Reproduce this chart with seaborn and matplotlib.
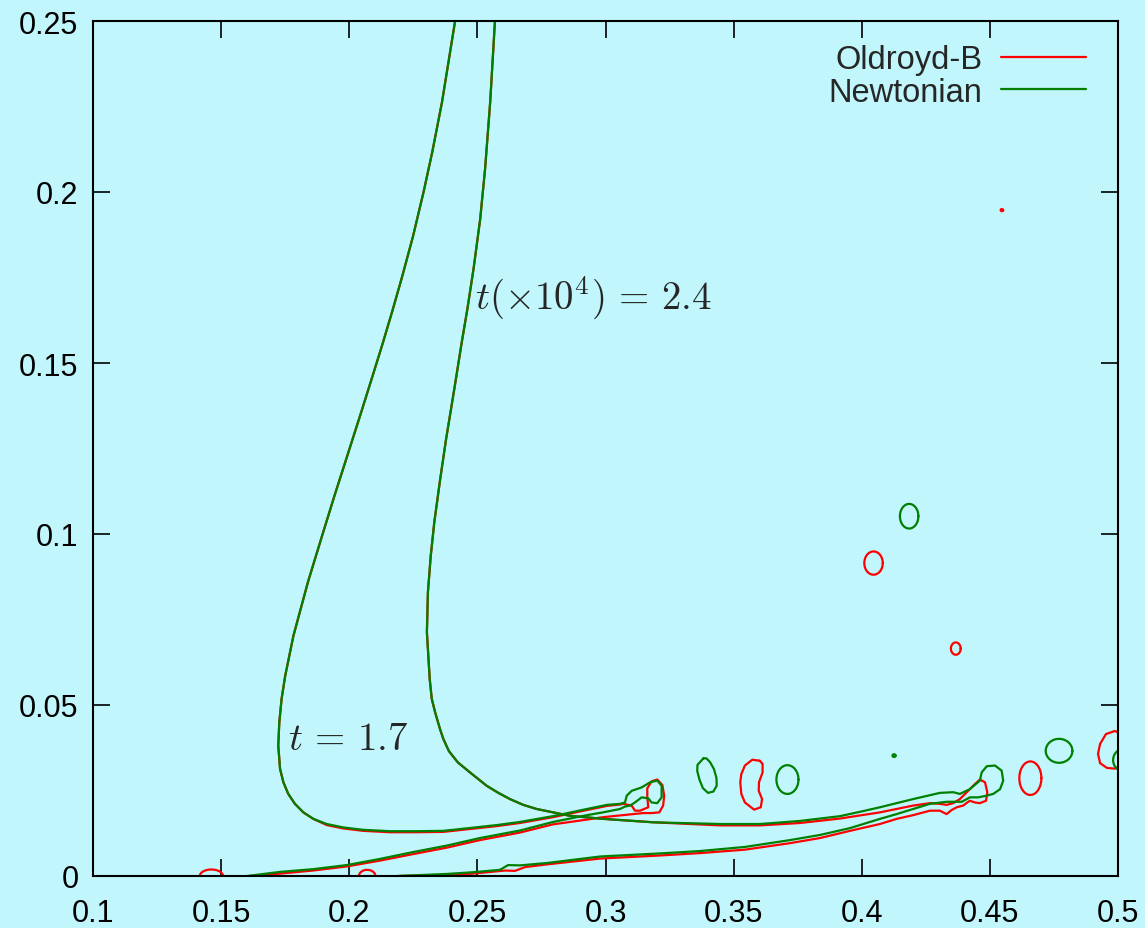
import numpy as np
import pandas as pd
import matplotlib
matplotlib.use("Agg")
import matplotlib.pyplot as plt
import seaborn as sns
from matplotlib.lines import Line2D

# ---------------- data ----------------
# t = 1.7 interface: common upper stem, then per-fluid tails
t17_stem_x = [0.2417, 0.2362, 0.2324, 0.2290, 0.2249, 0.2207, 0.2167, 0.2130, 0.2096, 0.2047,
              0.1992, 0.1942, 0.1890, 0.1839, 0.1782, 0.1750, 0.1736, 0.1727, 0.1723, 0.1730,
              0.1743, 0.1762, 0.1788, 0.1821, 0.1860]
t17_stem_y = [0.2518, 0.2263, 0.2117, 0.2000, 0.1871, 0.1754, 0.1649, 0.1556, 0.1474, 0.1357,
              0.1228, 0.1111, 0.0985, 0.0860, 0.0702, 0.0585, 0.0518, 0.0449, 0.0381, 0.0313,
              0.0274, 0.0240, 0.0211, 0.0186, 0.0167]

t17_newt_tail_x = [0.1912, 0.1977, 0.2055, 0.2159, 0.2263, 0.2367, 0.2577, 0.2666, 0.2795, 0.2928,
                   0.3006, 0.3057,
                   0.3076, 0.3083, 0.3102, 0.3141, 0.3174, 0.3202, 0.3219, 0.3219, 0.3202, 0.3180,
                   0.3167, 0.3141, 0.3115, 0.3096, 0.3076, 0.3057,
                   0.2990, 0.2928, 0.2795, 0.2666, 0.2510, 0.2381, 0.2249, 0.2120, 0.1991, 0.1859,
                   0.1730, 0.1601]
t17_newt_tail_y = [0.0152, 0.0142, 0.0135, 0.0131, 0.0131, 0.0132, 0.0149, 0.0158, 0.0175, 0.0196,
                   0.0208, 0.0211,
                   0.0215, 0.0235, 0.0249, 0.0259, 0.0274, 0.0279, 0.0264, 0.0230, 0.0213, 0.0215,
                   0.0227, 0.0230, 0.0215, 0.0206, 0.0203, 0.0196,
                   0.0186, 0.0178, 0.0158, 0.0133, 0.0111, 0.0089, 0.0070, 0.0050, 0.0032, 0.0020,
                   0.0012, 0.0000]

t17_oldb_tail_x = [0.1912, 0.1977, 0.2055, 0.2159, 0.2263, 0.2367, 0.2577, 0.2666, 0.2795, 0.2928,
                   0.3006, 0.3057,
                   0.3069, 0.3102, 0.3115, 0.3135, 0.3167, 0.3163, 0.3163, 0.3180, 0.3202, 0.3222,
                   0.3229, 0.3225, 0.3210, 0.3180, 0.3147, 0.3108,
                   0.2990, 0.2928, 0.2795, 0.2666, 0.2510, 0.2381, 0.2249, 0.2120, 0.1991, 0.1859,
                   0.1730, 0.1613]
t17_oldb_tail_y = [0.0149, 0.0139, 0.0132, 0.0128, 0.0128, 0.0129, 0.0146, 0.0155, 0.0172, 0.0193,
                   0.0205, 0.0209,
                   0.0211, 0.0206, 0.0191, 0.0191, 0.0201, 0.0230, 0.0256, 0.0277, 0.0282, 0.0266,
                   0.0235, 0.0206, 0.0186, 0.0184, 0.0184, 0.0181,
                   0.0172, 0.0165, 0.0151, 0.0127, 0.0105, 0.0083, 0.0064, 0.0045, 0.0028, 0.0016,
                   0.0007, 0.0000]

# t = 2.4 interface
t24_stem_x = [0.2570, 0.2550, 0.2530, 0.2511, 0.2485, 0.2461, 0.2438, 0.2410, 0.2378, 0.2355,
              0.2332, 0.2318, 0.2307, 0.2303, 0.2314, 0.2322, 0.2335, 0.2354, 0.2367, 0.2389,
              0.2424, 0.2471, 0.2536, 0.2582, 0.2627, 0.2679, 0.2731, 0.2861, 0.2991, 0.3187]
t24_stem_y = [0.2518, 0.2263, 0.2067, 0.1921, 0.1775, 0.1658, 0.1556, 0.1424, 0.1278, 0.1161,
              0.1035, 0.0936, 0.0830, 0.0713, 0.0576, 0.0518, 0.0479, 0.0430, 0.0401, 0.0365,
              0.0332, 0.0303, 0.0264, 0.0243, 0.0225, 0.0208, 0.0196, 0.0176, 0.0167, 0.0157]

t24_newt_tail_x = [0.3447, 0.3603, 0.3759, 0.3915, 0.4001, 0.4071, 0.4201, 0.4305, 0.4357, 0.4383,
                   0.4422, 0.4461, 0.4468, 0.4488, 0.4520, 0.4546, 0.4552, 0.4540, 0.4513, 0.4488,
                   0.4455, 0.4422, 0.4410, 0.4390, 0.4331,
                   0.4266, 0.4201, 0.4136, 0.4071, 0.3954, 0.3837, 0.3720, 0.3544, 0.3369, 0.3213,
                   0.2979, 0.2772, 0.2666, 0.2620, 0.2588, 0.2483, 0.2381, 0.2186]
t24_newt_tail_y = [0.0152, 0.0152, 0.0161, 0.0175, 0.0189, 0.0201, 0.0225, 0.0243, 0.0245, 0.0240,
                   0.0254, 0.0279, 0.0303, 0.0321, 0.0323, 0.0308, 0.0279, 0.0254, 0.0240, 0.0235,
                   0.0230, 0.0230, 0.0225, 0.0217, 0.0217,
                   0.0211, 0.0196, 0.0181, 0.0167, 0.0140, 0.0120, 0.0105, 0.0085, 0.0073, 0.0066,
                   0.0057, 0.0038, 0.0031, 0.0032, 0.0018, 0.0011, 0.0006, 0.0000]

t24_oldb_tail_x = [0.3447, 0.3603, 0.3759, 0.3915, 0.4001, 0.4071, 0.4201, 0.4266, 0.4305, 0.4331,
                   0.4357, 0.4383, 0.4410, 0.4435, 0.4461, 0.4481, 0.4490, 0.4485, 0.4461, 0.4442,
                   0.4422, 0.4412, 0.4396, 0.4371, 0.4351, 0.4331, 0.4305, 0.4266, 0.4201, 0.4136,
                   0.4071, 0.3954, 0.3837, 0.3720, 0.3544, 0.3369, 0.3213, 0.2979, 0.2772, 0.2686,
                   0.2647, 0.2608, 0.2483, 0.2381, 0.2198]
t24_oldb_tail_y = [0.0148, 0.0148, 0.0155, 0.0168, 0.0178, 0.0186, 0.0206, 0.0213, 0.0211, 0.0208,
                   0.0213, 0.0225, 0.0245, 0.0264, 0.0282, 0.0274, 0.0245, 0.0220, 0.0213, 0.0215,
                   0.0220, 0.0215, 0.0206, 0.0201, 0.0193, 0.0181, 0.0191, 0.0191, 0.0178, 0.0167,
                   0.0152, 0.0132, 0.0111, 0.0096, 0.0077, 0.0067, 0.0060, 0.0051, 0.0034, 0.0026,
                   0.0015, 0.0016, 0.0007, 0.0003, 0.0000]

# detached droplets (centre, semi-axes)
drop_newt_cx = [0.3710, 0.4185, 0.4126, 0.4770, 0.5020]
drop_newt_cy = [0.0282, 0.1052, 0.0352, 0.0366, 0.0339]
drop_newt_rx = [0.0043, 0.0036, 0.0006, 0.0052, 0.0039]
drop_newt_ry = [0.0042, 0.0036, 0.0004, 0.0035, 0.0032]

drop_oldb_cx = [0.4046, 0.4367, 0.4547, 0.4658, 0.1462, 0.2070]
drop_oldb_cy = [0.0915, 0.0665, 0.1947, 0.0286, 0.0000, 0.0000]
drop_oldb_rx = [0.0036, 0.0019, 0.0005, 0.0043, 0.0045, 0.0032]
drop_oldb_ry = [0.0034, 0.0018, 0.0003, 0.0049, 0.0019, 0.0018]

# irregular droplets (outlines)
tilted_newt_x = [0.3382, 0.3359, 0.3358, 0.3367, 0.3380, 0.3400, 0.3421, 0.3434, 0.3433, 0.3423, 0.3408, 0.3394]
tilted_newt_y = [0.0344, 0.0325, 0.0307, 0.0281, 0.0257, 0.0243, 0.0247, 0.0264, 0.0287, 0.0313, 0.0333, 0.0344]

kidney_oldb_x = [0.3602, 0.3573, 0.3544, 0.3530, 0.3526, 0.3530, 0.3544, 0.3580, 0.3606, 0.3611, 0.3598, 0.3599, 0.3613, 0.3613]
kidney_oldb_y = [0.0337, 0.0340, 0.0323, 0.0298, 0.0274, 0.0240, 0.0215, 0.0194, 0.0201, 0.0225, 0.0249, 0.0274, 0.0303, 0.0328]

edge_oldb_x = [0.5039, 0.4988, 0.4953, 0.4930, 0.4922, 0.4930, 0.4957, 0.4988, 0.5016, 0.5047]
edge_oldb_y = [0.0406, 0.0424, 0.0415, 0.0386, 0.0357, 0.0330, 0.0316, 0.0314, 0.0325, 0.0348]

x_ticks = [0.1, 0.15, 0.2, 0.25, 0.3, 0.35, 0.4, 0.45, 0.5]
x_tick_labels = ["0.1", "0.15", "0.2", "0.25", "0.3", "0.35", "0.4", "0.45", "0.5"]
y_ticks = [0, 0.05, 0.1, 0.15, 0.2, 0.25]
y_tick_labels = ["0", "0.05", "0.1", "0.15", "0.2", "0.25"]

series_labels = ["Oldroyd-B", "Newtonian"]
series_colors = ["#ff0000", "#008000"]

# ---------------- build long-form tables ----------------
theta = np.linspace(0, 2 * np.pi, 73)


def curves_frame(curves):
    rows = []
    for cid, (xs, ys) in enumerate(curves):
        for k, (a, b) in enumerate(zip(xs, ys)):
            rows.append((cid, k, a, b))
    return pd.DataFrame(rows, columns=["curve", "order", "x", "y"])


def closed(xs, ys):
    return list(xs) + [xs[0]], list(ys) + [ys[0]]


def ellipses(cx, cy, rx, ry):
    out = []
    for a, b, r1, r2 in zip(cx, cy, rx, ry):
        out.append((a + r1 * np.cos(theta), b + r2 * np.sin(theta)))
    return out


oldb_curves = [(t17_stem_x + t17_oldb_tail_x, t17_stem_y + t17_oldb_tail_y),
               (t24_stem_x + t24_oldb_tail_x, t24_stem_y + t24_oldb_tail_y),
               closed(kidney_oldb_x, kidney_oldb_y),
               closed(edge_oldb_x, edge_oldb_y)] + ellipses(drop_oldb_cx, drop_oldb_cy, drop_oldb_rx, drop_oldb_ry)
newt_curves = [(t17_stem_x + t17_newt_tail_x, t17_stem_y + t17_newt_tail_y),
               (t24_stem_x + t24_newt_tail_x, t24_stem_y + t24_newt_tail_y),
               closed(tilted_newt_x, tilted_newt_y)] + ellipses(drop_newt_cx, drop_newt_cy, drop_newt_rx, drop_newt_ry)

df_oldb = curves_frame(oldb_curves)
df_newt = curves_frame(newt_curves)

# ---------------- plot ----------------
bg = "#c1f7fc"
sns.set_theme(style="ticks")
plt.rcParams["font.family"] = ["Liberation Sans", "DejaVu Sans"]
plt.rcParams["mathtext.fontset"] = "cm"

fig = plt.figure(figsize=(11.45, 9.29), dpi=100, facecolor=bg)
ax = fig.add_axes([93 / 1145, 52 / 929, 1025 / 1145, 855 / 929])
ax.set_facecolor(bg)

lw = 1.6
sns.lineplot(data=df_oldb, x="x", y="y", units="curve", estimator=None, sort=False,
             color=series_colors[0], lw=lw, ax=ax, legend=False)
sns.lineplot(data=df_newt, x="x", y="y", units="curve", estimator=None, sort=False,
             color=series_colors[1], lw=lw, ax=ax, legend=False)

ax.set_xlim(0.1, 0.5)
ax.set_ylim(0, 0.25)
ax.set_xticks(x_ticks)
ax.set_xticklabels(x_tick_labels)
ax.set_yticks(y_ticks)
ax.set_yticklabels(y_tick_labels)
ax.set_xlabel("")
ax.set_ylabel("")
ax.tick_params(axis="both", which="both", direction="in", top=True, right=True,
               length=12, width=1.2, labelsize=22, colors="black")
ax.tick_params(axis="x", pad=15.5)
ax.tick_params(axis="y", pad=10.5)
for sp in ax.spines.values():
    sp.set_visible(True)
    sp.set_linewidth(1.5)
    sp.set_color("black")

ax.text(0.249, 0.1693, r"$t(\times 10^4)\,=\,2.4$", fontsize=28, ha="left", va="center")
ax.text(0.1761, 0.0401, r"$t\,=\,1.7$", fontsize=28, ha="left", va="center")

handles = [Line2D([], [], color=c, lw=lw) for c in series_colors]
ax.legend(handles, series_labels, loc="upper right", bbox_to_anchor=(0.969, 0.973),
          frameon=False, markerfirst=False, handlelength=2.6, handletextpad=0.58,
          labelspacing=0.05, borderpad=0, borderaxespad=0, fontsize=23.5)

fig.savefig("out.png", dpi=100, facecolor=bg)
